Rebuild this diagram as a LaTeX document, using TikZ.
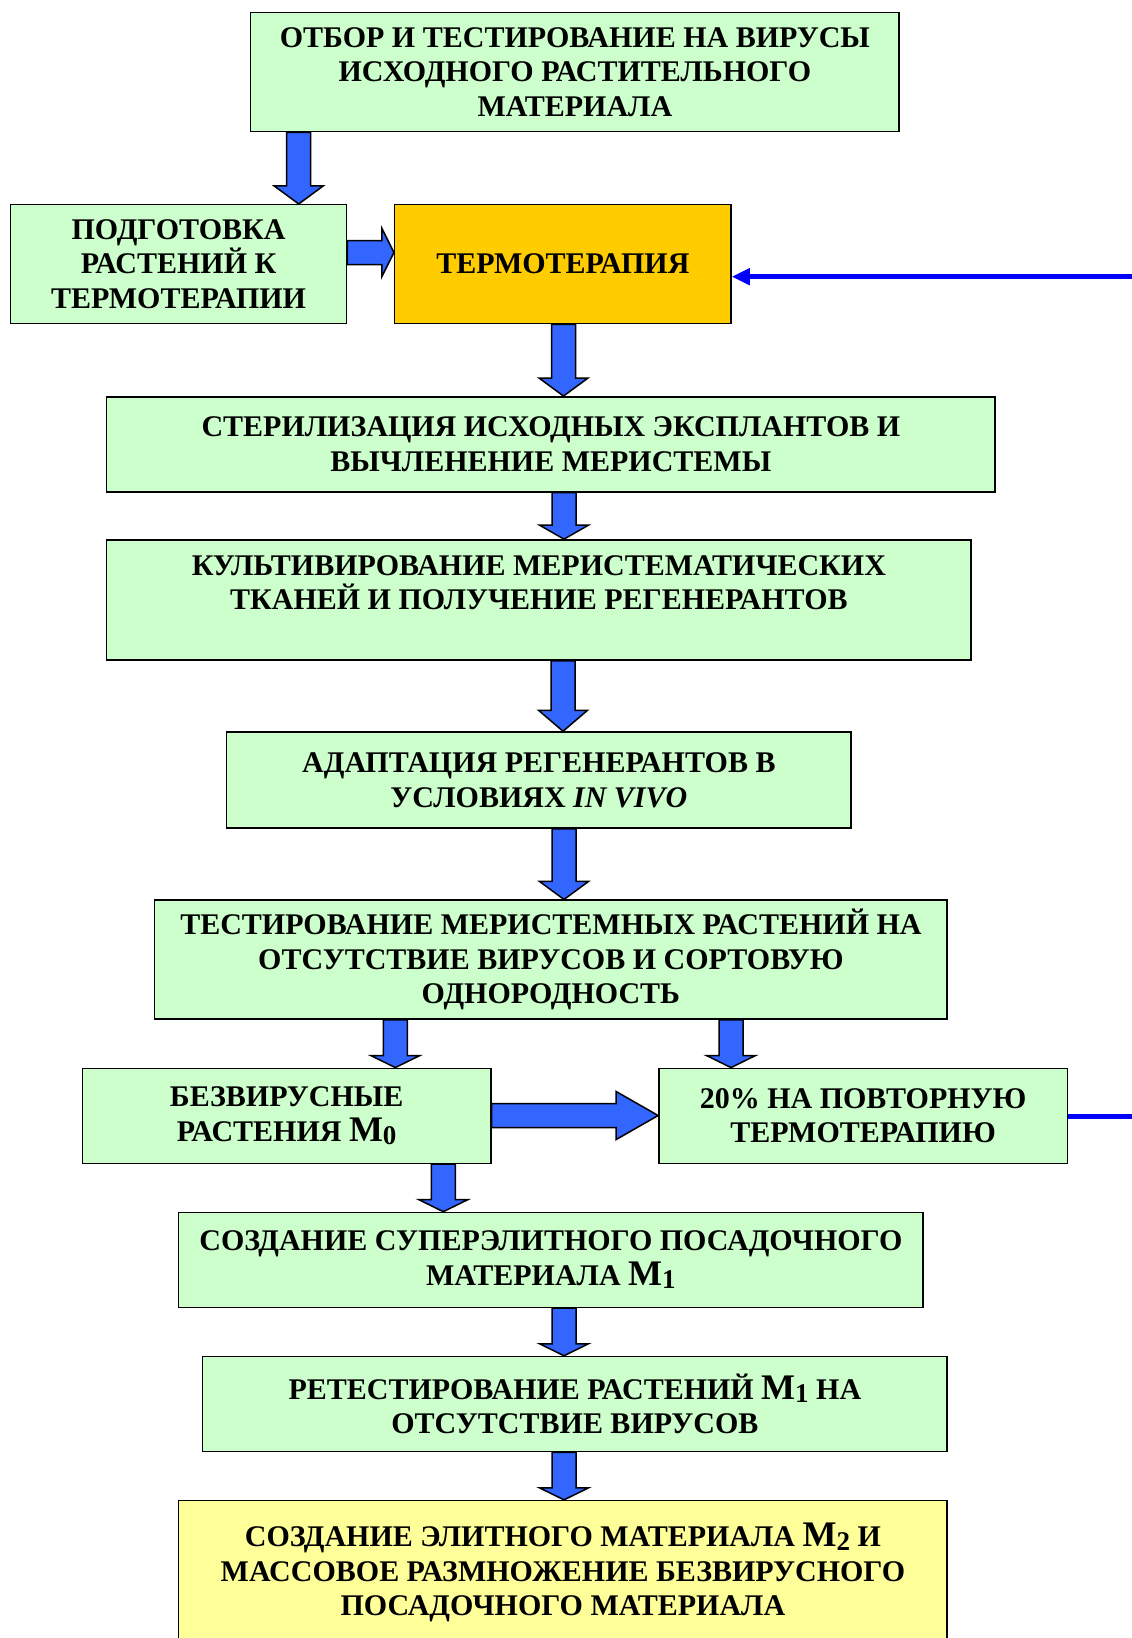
\documentclass[tikz,border=0pt]{standalone}
\usepackage{fontspec}
\setmainfont{Liberation Serif}
\usetikzlibrary{calc,arrows.meta}
\definecolor{boxgreen}{HTML}{CCFFCC}
\definecolor{boxorange}{HTML}{FFCC00}
\definecolor{boxyellow}{HTML}{FFFF99}
\definecolor{arrowblue}{HTML}{3366FF}
\definecolor{lineblue}{HTML}{0000FF}
\newcommand\Msub[1]{{\fontsize{36}{34}\selectfont M}\raisebox{-3.5pt}{\fontsize{27}{27}\selectfont #1}}
% block arrow down: from, to, x, head length
\newcommand\blockdown[4]{%
  \draw[barrow] let \p1=(#1.south), \p2=(#2.north) in
    (#3pt-12pt,\y1) -- (#3pt-12pt,\y2+#4pt) -- (#3pt-24.5pt,\y2+#4pt) -- (#3pt,\y2)
    -- (#3pt+24.5pt,\y2+#4pt) -- (#3pt+12pt,\y2+#4pt) -- (#3pt+12pt,\y1) -- cycle;}
% block arrow right: from, to, y, head length
\newcommand\blockright[4]{%
  \draw[barrow] let \p1=(#1.east), \p2=(#2.west) in
    (\x1,#3pt+12pt) -- (\x2-#4pt,#3pt+12pt) -- (\x2-#4pt,#3pt+24pt) -- (\x2,#3pt)
    -- (\x2-#4pt,#3pt-24pt) -- (\x2-#4pt,#3pt-12pt) -- (\x1,#3pt-12pt) -- cycle;}
\begin{document}
\begin{tikzpicture}[x=1pt,y=1pt,
  gbox/.style={draw=black, line width=1.5pt, fill=boxgreen, align=center, inner sep=0pt,
    font=\bfseries\fontsize{30}{34.5}\selectfont},
  barrow/.style={draw=black, line width=1.5pt, fill=arrowblue, line join=miter},
  bline/.style={draw=lineblue, line width=5pt}]
\useasboundingbox (0,0) rectangle (1132,-1638);
\fill[white] (0,0) rectangle (1132,-1638);

\node[gbox, minimum width=648.5pt, minimum height=119.1pt] (b1) at (574.85,-72.05)
  {ОТБОР И ТЕСТИРОВАНИЕ НА ВИРУСЫ\\ИСХОДНОГО РАСТИТЕЛЬНОГО\\МАТЕРИАЛА};
\node[gbox, minimum width=336.3pt, minimum height=119pt] (b2) at (178.55,-264.2)
  {ПОДГОТОВКА\\РАСТЕНИЙ К\\ТЕРМОТЕРАПИИ};
\node[gbox, fill=boxorange, minimum width=336.3pt, minimum height=119pt] (b3) at (562.85,-264.2)
  {ТЕРМОТЕРАПИЯ};
\node[gbox, minimum width=888.7pt, minimum height=95.1pt] (b4) at (550.85,-444.35)
  {СТЕРИЛИЗАЦИЯ ИСХОДНЫХ ЭКСПЛАНТОВ И\\ВЫЧЛЕНЕНИЕ МЕРИСТЕМЫ};
\node[gbox, minimum width=864.7pt, minimum height=120.1pt] (b5) at (538.85,-599.95)
  {КУЛЬТИВИРОВАНИЕ МЕРИСТЕМАТИЧЕСКИХ\\ТКАНЕЙ И ПОЛУЧЕНИЕ РЕГЕНЕРАНТОВ\\\mbox{}};
\node[gbox, minimum width=624.5pt, minimum height=96.1pt] (b6) at (538.85,-780.05)
  {АДАПТАЦИЯ РЕГЕНЕРАНТОВ В\\УСЛОВИЯХ \textit{IN VIVO}};
\node[gbox, minimum width=792.6pt, minimum height=119pt] (b7) at (550.9,-959.7)
  {ТЕСТИРОВАНИЕ МЕРИСТЕМНЫХ РАСТЕНИЙ НА\\ОТСУТСТВИЕ ВИРУСОВ И СОРТОВУЮ\\ОДНОРОДНОСТЬ};
\node[gbox, minimum width=408.3pt, minimum height=95pt] (b8) at (286.65,-1115.8)
  {БЕЗВИРУСНЫЕ\\РАСТЕНИЯ \Msub{0}};
\node[gbox, minimum width=408.4pt, minimum height=95pt] (b9) at (863.1,-1115.8)
  {20\% НА ПОВТОРНУЮ\\ТЕРМОТЕРАПИЮ};
\node[gbox, minimum width=744.5pt, minimum height=95pt] (b10) at (550.85,-1259.9)
  {СОЗДАНИЕ СУПЕРЭЛИТНОГО ПОСАДОЧНОГО\\МАТЕРИАЛА \Msub{1}};
\node[gbox, minimum width=744.6pt, minimum height=95.1pt] (b11) at (574.9,-1404.05)
  {РЕТЕСТИРОВАНИЕ РАСТЕНИЙ \Msub{1} НА\\ОТСУТСТВИЕ ВИРУСОВ};
\node[gbox, fill=boxyellow, minimum width=768.6pt, minimum height=144.4pt] (b12) at (562.9,-1572.8)
  {СОЗДАНИЕ ЭЛИТНОГО МАТЕРИАЛА \Msub{2} И\\МАССОВОЕ РАЗМНОЖЕНИЕ БЕЗВИРУСНОГО\\ПОСАДОЧНОГО МАТЕРИАЛА};

\blockdown{b1}{b2}{298.7}{18}
\blockright{b2}{b3}{-252.5}{12}
\blockdown{b3}{b4}{563.5}{18}
\blockdown{b4}{b5}{564}{14}
\blockdown{b5}{b6}{563}{21}
\blockdown{b6}{b7}{564}{18}
\blockdown{b7}{b8}{395.3}{12}
\blockdown{b7}{b9}{731}{12}
\blockright{b8}{b9}{-1115.5}{42}
\blockdown{b8}{b10}{443.3}{12}
\blockdown{b10}{b11}{564}{12}
\blockdown{b11}{b12}{564}{12}

\coordinate (r1) at (1132,-276.7);
\coordinate (r2) at (1132,-1116.5);
\draw[bline,-{Triangle[length=18pt,width=16pt]}] (r1) -- (r1 -| b3.east);
\draw[bline] (r2 -| b9.east) -- (r2);
\end{tikzpicture}
\end{document}
